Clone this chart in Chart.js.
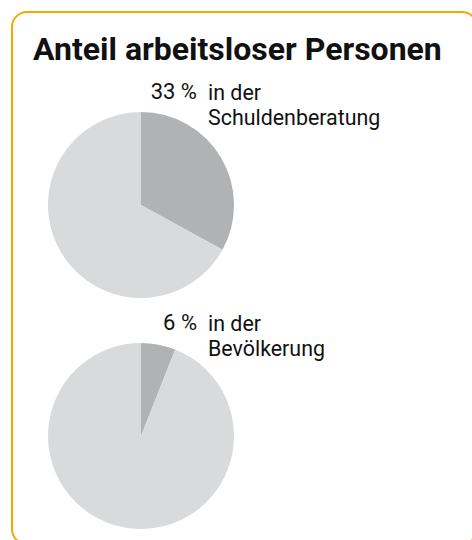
<!DOCTYPE html>
<html>
<head>
<meta charset="utf-8">
<script src="https://cdn.jsdelivr.net/npm/chart.js@4"></script>
<style>
  html, body { margin: 0; padding: 0; background: #fff; }
  body { width: 472px; height: 540px; overflow: hidden; position: relative; font-family: Roboto, "Noto Sans", sans-serif; color: #111; }
  #frame { position: absolute; left: 11px; top: 11px; width: 467px; height: 534px; border: 2.5px solid #f7a800; border-radius: 16px; box-sizing: border-box; }
  #title { position: absolute; left: 33px; top: 30px; font-size: 32px; font-weight: 700; white-space: nowrap; line-height: 38px; }
  .pct { position: absolute; font-size: 22px; text-align: right; width: 100px; line-height: 24px; white-space: nowrap; }
  .lab { position: absolute; font-size: 21.4px; line-height: 25px; white-space: nowrap; }
  canvas.pie { position: absolute; }
</style>
</head>
<body>
<div id="frame"></div>
<div id="title">Anteil arbeitsloser Personen</div>
<div id="labels"></div>
<canvas id="pie0" class="pie" width="186" height="186" style="left:48px;top:112px"></canvas>
<canvas id="pie1" class="pie" width="186" height="186" style="left:48px;top:343px"></canvas>
<script>
const groups = ["in der\nSchuldenberatung", "in der\nBevölkerung"];
const unemployedShare = [33, 6];
const otherShare = [67, 94];
const sliceColors = ["#b1b2b4", "#d9dadc"];

const labelTops = [80, 311];
const labelsDiv = document.getElementById('labels');
groups.forEach((g, i) => {
  const p = document.createElement('div');
  p.className = 'pct';
  p.style.left = (197 - 100) + 'px';
  p.style.top = labelTops[i] + 'px';
  p.textContent = unemployedShare[i] + ' %';
  labelsDiv.appendChild(p);
  const l = document.createElement('div');
  l.className = 'lab';
  l.style.left = '208px';
  l.style.top = labelTops[i] + 'px';
  l.innerHTML = g.split('\n').join('<br>');
  labelsDiv.appendChild(l);

  new Chart(document.getElementById('pie' + i), {
    type: 'pie',
    data: {
      labels: ['arbeitslos', 'nicht arbeitslos'],
      datasets: [{
        data: [unemployedShare[i], otherShare[i]],
        backgroundColor: sliceColors,
        borderWidth: 0
      }]
    },
    options: {
      responsive: false,
      animation: false,
      layout: { padding: 0 },
      plugins: { legend: { display: false }, tooltip: { enabled: false }, title: { display: false } }
    }
  });
});
</script>
</body>
</html>
